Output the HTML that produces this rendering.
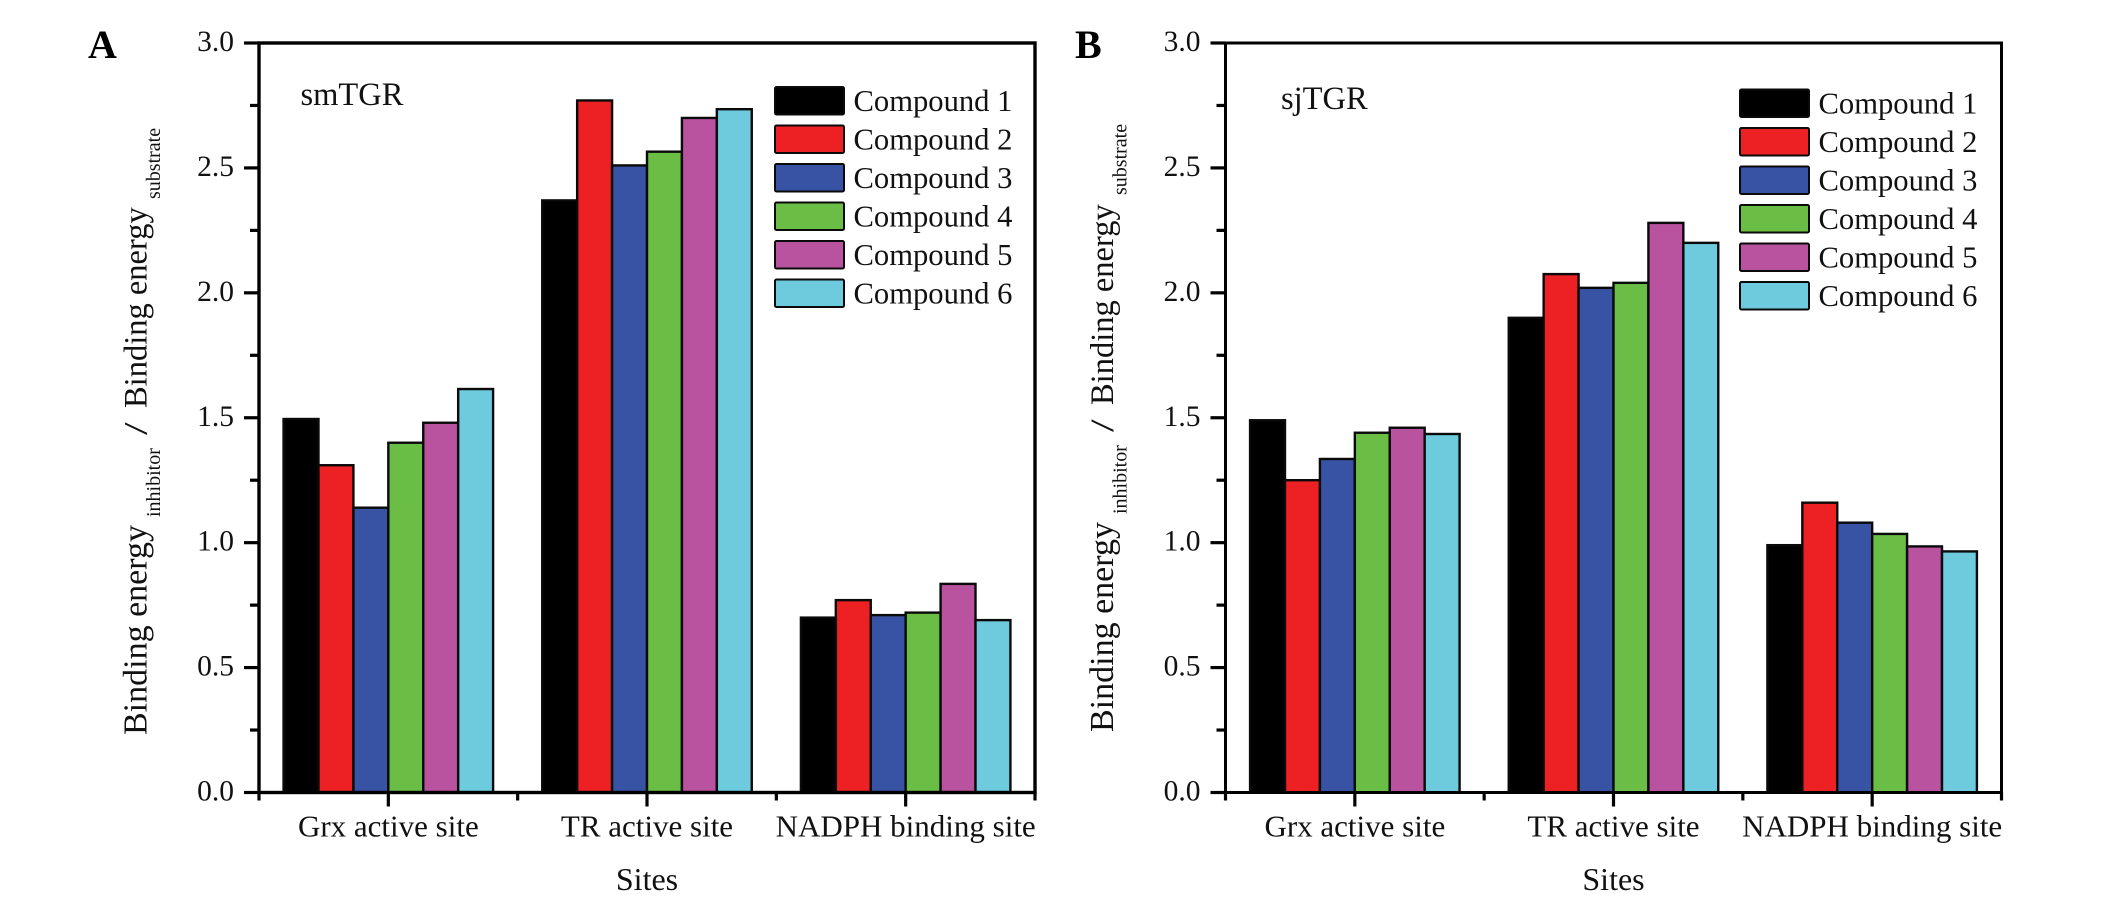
<!DOCTYPE html>
<html lang="en">
<head>
<meta charset="utf-8">
<title>Binding energy ratio by site: smTGR and sjTGR</title>
<style>
  html, body { margin: 0; padding: 0; background: #fff; }
  #figure { display: block; width: 2126px; height: 902px; }
  text { font-family: "Liberation Serif", serif; fill: #111; }
</style>
</head>
<body>
<svg id="figure" xmlns="http://www.w3.org/2000/svg" width="2126" height="902" viewBox="0 0 2126 902">
  <rect x="0" y="0" width="2126" height="902" fill="#fff"/>

  <g id="panel-a"></g>
  <g id="panel-b"></g>

  <text x="88" y="58" font-size="40" font-weight="bold" style="fill:#000">A</text>
  <text x="1075" y="58" font-size="40" font-weight="bold" style="fill:#000">B</text>

  <text x="300.5" y="105" font-size="32.5">smTGR</text>
  <text x="1281" y="109" font-size="32.5">sjTGR</text>

  <g>
    <text transform="translate(146.5,735) rotate(-90)" font-size="34">Binding energy</text>
    <text transform="translate(160,517) rotate(-90)" font-size="20">inhibitor</text>
    <text transform="translate(146.5,435) rotate(-90) scale(1.4,1)" font-size="32.5">/</text>
    <text transform="translate(146.5,408) rotate(-90)" font-size="32.5">Binding energy</text>
    <text transform="translate(160,199) rotate(-90)" font-size="20">substrate</text>
  </g>
  <g>
    <text transform="translate(1113,732) rotate(-90)" font-size="34">Binding energy</text>
    <text transform="translate(1126.5,514) rotate(-90)" font-size="20">inhibitor</text>
    <text transform="translate(1113,432) rotate(-90) scale(1.4,1)" font-size="32.5">/</text>
    <text transform="translate(1113,405) rotate(-90)" font-size="32.5">Binding energy</text>
    <text transform="translate(1126.5,195) rotate(-90)" font-size="20">substrate</text>
  </g>

  <text x="647" y="890" font-size="32" text-anchor="middle">Sites</text>
  <text x="1613.5" y="890" font-size="32" text-anchor="middle">Sites</text>
</svg>

<script>
// Chart data
const siteCategories = ['Grx active site', 'TR active site', 'NADPH binding site'];
const compoundNames = ['Compound 1', 'Compound 2', 'Compound 3', 'Compound 4', 'Compound 5', 'Compound 6'];
const compoundColors = ['#000000', '#ed2024', '#3953a4', '#6abd45', '#b9529f', '#6dcbdd'];
const yTickValues = [0, 0.5, 1, 1.5, 2, 2.5, 3];
const yTickLabels = ['0.0', '0.5', '1.0', '1.5', '2.0', '2.5', '3.0'];

// Panel A: smTGR, one array per site, in compound order
const smTgrGrx = [1.495, 1.31, 1.14, 1.40, 1.48, 1.615];
const smTgrTr = [2.37, 2.77, 2.51, 2.565, 2.70, 2.735];
const smTgrNadph = [0.70, 0.77, 0.71, 0.72, 0.835, 0.69];

// Panel B: sjTGR, one array per site, in compound order
const sjTgrGrx = [1.49, 1.25, 1.335, 1.44, 1.46, 1.435];
const sjTgrTr = [1.90, 2.075, 2.02, 2.04, 2.28, 2.20];
const sjTgrNadph = [0.99, 1.16, 1.08, 1.035, 0.985, 0.965];

const SVG_NS = 'http://www.w3.org/2000/svg';

function makeEl(parent, tag, props) {
  const el = document.createElementNS(SVG_NS, tag);
  Object.keys(props).forEach(function (key) { el.setAttribute(key, props[key]); });
  parent.appendChild(el);
  return el;
}

function drawPanel(panelId, siteSeries, box, legend) {
  const root = document.getElementById(panelId);
  const axisTop = 43;
  const axisBottom = 792.5;
  const xDomainMin = 0.5;
  const xDomainMax = 0.5 + siteCategories.length;
  const barFraction = 0.135;

  const yScale = function (v) {
    return axisBottom - (v / 3) * (axisBottom - axisTop);
  };
  const xScale = function (v) {
    return box.left + ((v - xDomainMin) / (xDomainMax - xDomainMin)) * (box.right - box.left);
  };
  const barWidth = xScale(xDomainMin + barFraction) - xScale(xDomainMin);

  // Bars
  siteSeries.forEach(function (values, siteIndex) {
    values.forEach(function (value, compoundIndex) {
      const left = xScale(siteIndex + 1) + (compoundIndex - values.length / 2) * barWidth;
      const bar = makeEl(root, 'rect', {
        x: left,
        y: yScale(value),
        width: barWidth,
        height: yScale(0) - yScale(value),
        fill: compoundColors[compoundIndex],
        stroke: '#0a0a0a',
        'stroke-width': 2.4
      });
      
      
    });
  });

  // Frame
  const frame = makeEl(root, 'rect', {
    x: box.left,
    y: axisTop,
    width: box.right - box.left,
    height: axisBottom - axisTop,
    fill: 'none',
    stroke: '#000',
    'stroke-width': box.stroke
  });
  
  

  // Y ticks and labels
  yTickValues.forEach(function (value, i) {
    const major = makeEl(root, 'line', {
      x1: box.left - 15, x2: box.left,
      y1: yScale(value), y2: yScale(value),
      stroke: '#000', 'stroke-width': 3.2
    });
    
    

    const label = makeEl(root, 'text', {
      x: box.left - 25,
      y: yScale(value) + 8,
      'font-size': 29.5,
      'text-anchor': 'end'
    });
    label.textContent = yTickLabels[i];
    
    

    if (i < yTickValues.length - 1) {
      const midValue = (value + yTickValues[i + 1]) / 2;
      const minor = makeEl(root, 'line', {
        x1: box.left - 9, x2: box.left,
        y1: yScale(midValue), y2: yScale(midValue),
        stroke: '#000', 'stroke-width': 3.2
      });
      
      
    }
  });

  // X ticks and labels
  siteCategories.forEach(function (name, i) {
    const major = makeEl(root, 'line', {
      x1: xScale(i + 1), x2: xScale(i + 1),
      y1: axisBottom, y2: axisBottom + 14,
      stroke: '#000', 'stroke-width': 3.2
    });
    
    

    const label = makeEl(root, 'text', {
      x: xScale(i + 1),
      y: axisBottom + 44,
      'font-size': 31,
      'text-anchor': 'middle'
    });
    label.textContent = name;
    
    
  });
  for (let k = 0; k <= siteCategories.length; k++) {
    const minor = makeEl(root, 'line', {
      x1: xScale(k + 0.5), x2: xScale(k + 0.5),
      y1: axisBottom, y2: axisBottom + 8,
      stroke: '#000', 'stroke-width': 3.2
    });
    
    
  }

  // Legend
  const legendGroup = makeEl(root, 'g', {});
  
  
  compoundNames.forEach(function (name, i) {
    const top = legend.top + i * legend.step;
    const swatch = makeEl(legendGroup, 'rect', {
      x: legend.left,
      y: top,
      width: 69,
      height: 27.5,
      rx: 1.5,
      fill: compoundColors[i],
      stroke: '#0a0a0a',
      'stroke-width': 2
    });
    
    

    const label = makeEl(legendGroup, 'text', {
      x: legend.left + 78.5,
      y: top + 24,
      'font-size': 30.6
    });
    label.textContent = name;
    
    
  });
}

drawPanel('panel-a', [smTgrGrx, smTgrTr, smTgrNadph],
  { left: 259, right: 1035, stroke: 3.4 },
  { left: 775, top: 87, step: 38.5 });

drawPanel('panel-b', [sjTgrGrx, sjTgrTr, sjTgrNadph],
  { left: 1225.5, right: 2001.5, stroke: 3 },
  { left: 1740, top: 89.5, step: 38.5 });
</script>
</body>
</html>
